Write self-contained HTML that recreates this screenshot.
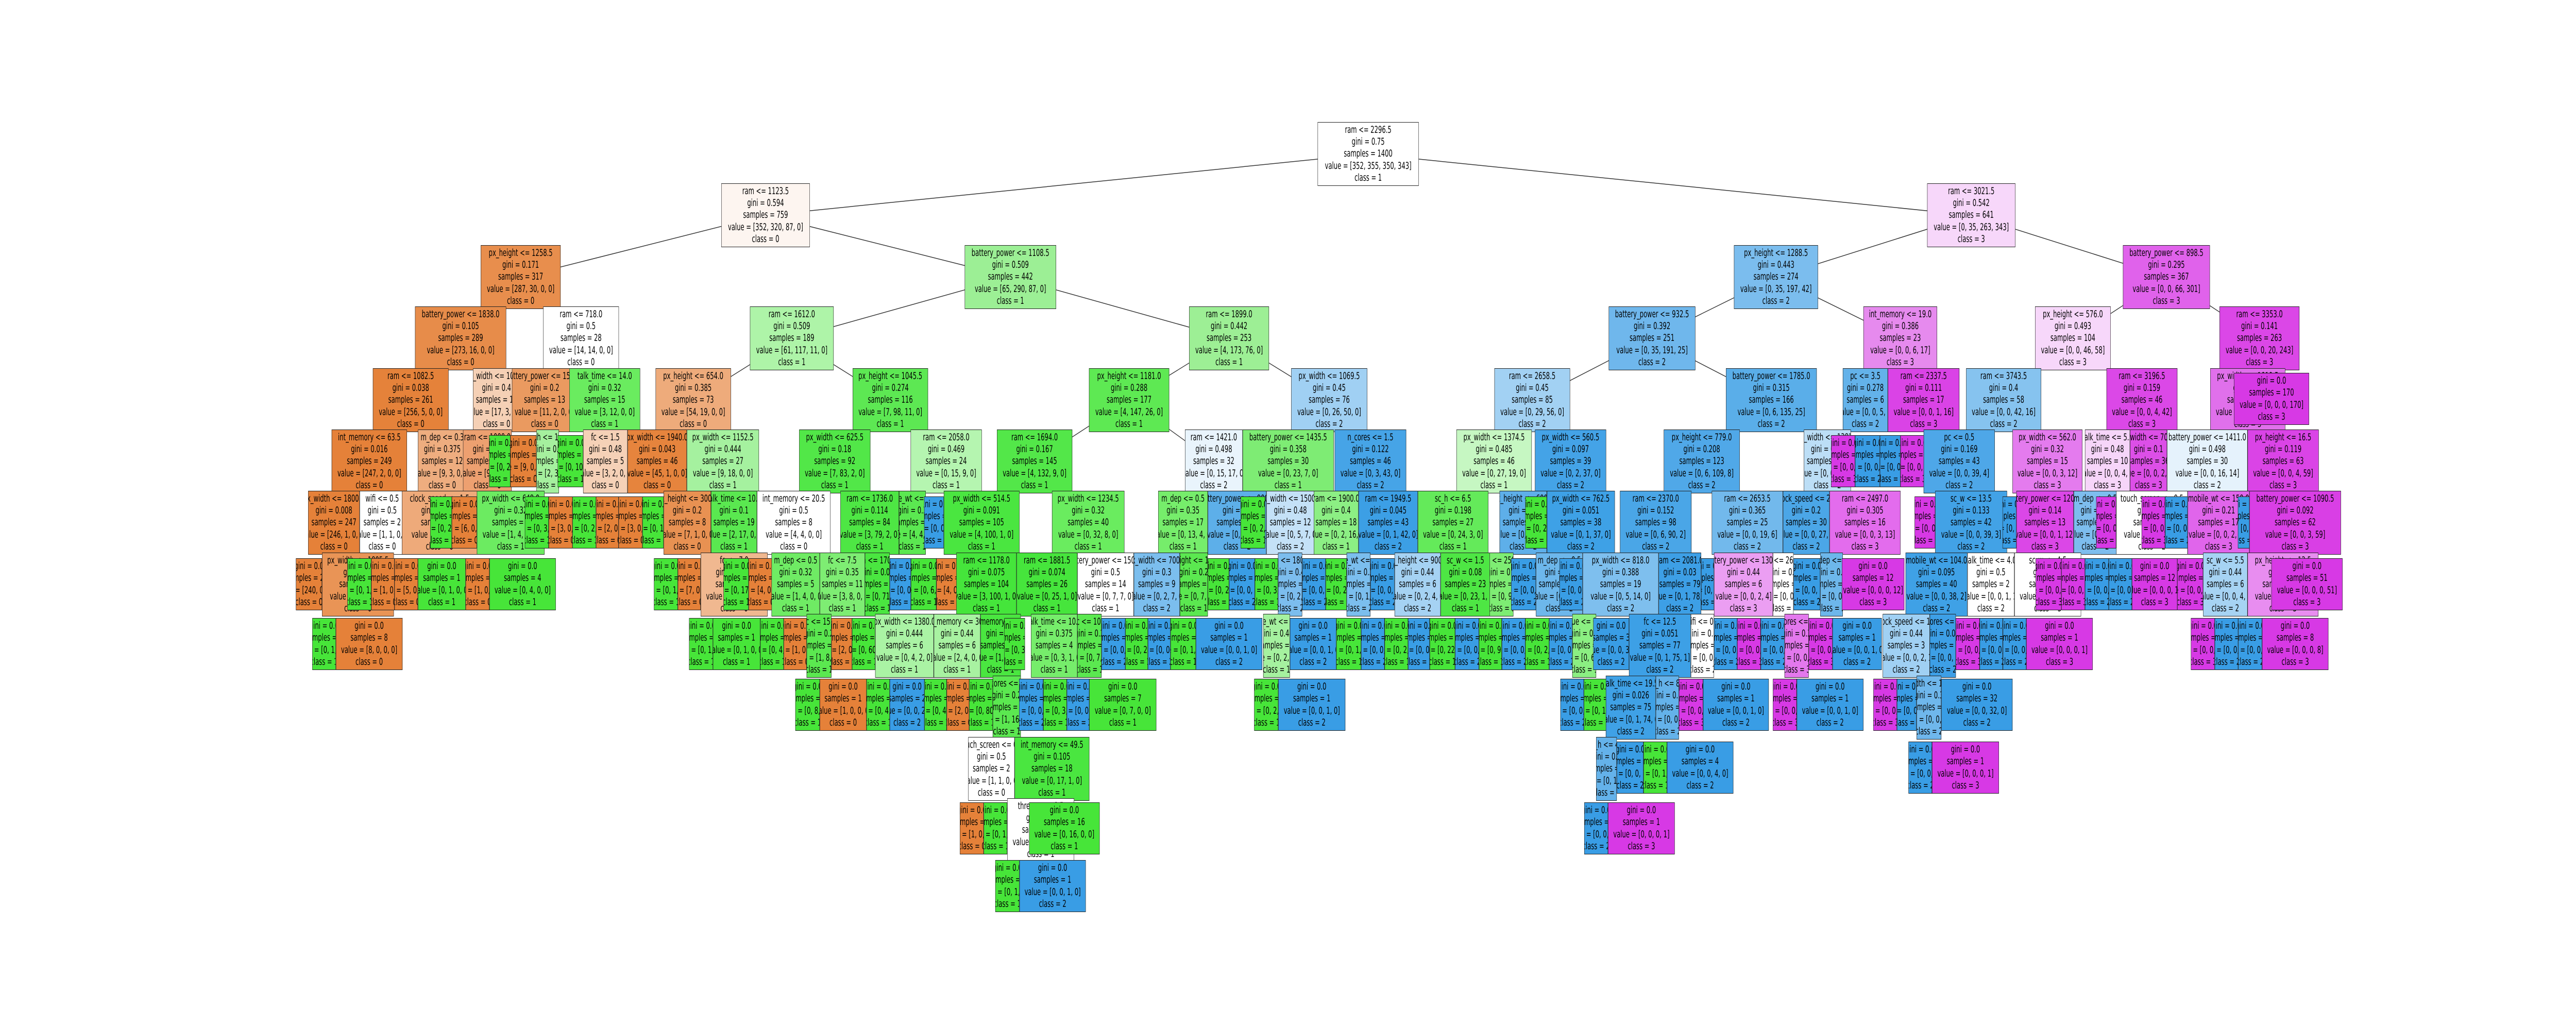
<!DOCTYPE html>
<html><head><meta charset="utf-8">
<style>
html,body{margin:0;padding:0;background:#fff;width:100%;height:100%;overflow:hidden}
#c{position:absolute;left:0;top:0;width:8000px;height:2000px;overflow:hidden;background:#fff;transform-origin:0 0}
.b{position:absolute;height:124px;border:1.5px solid #222;box-sizing:border-box;display:flex;justify-content:center;align-items:center;overflow:hidden;font:18.5px/23.3px "DejaVu Sans","Liberation Sans",sans-serif;white-space:nowrap;text-align:center;color:#000}
.b>div{flex:none}
.l{height:101px}
.o{background:#e58139}.g{background:#47e539}.u{background:#399de5}.m{background:#d739e5}.w{background:#fff}
svg{position:absolute;left:0;top:0}
</style></head><body><div id="c">
<svg width="8000" height="2000"><g stroke="#333" stroke-width="1.5" fill="none">
<line x1="4249" y1="299" x2="2377" y2="418"/><line x1="4249" y1="299" x2="6122" y2="418"/>
<line x1="2377" y1="418" x2="1617" y2="538"/><line x1="2377" y1="418" x2="3138" y2="538"/>
<line x1="6122" y1="418" x2="5515" y2="538"/><line x1="6122" y1="418" x2="6728" y2="538"/>
<line x1="1617" y1="538" x2="1430" y2="657"/><line x1="1617" y1="538" x2="1804" y2="657"/>
<line x1="3138" y1="538" x2="2459" y2="657"/><line x1="3138" y1="538" x2="3817" y2="657"/>
<line x1="5515" y1="538" x2="5130" y2="657"/><line x1="5515" y1="538" x2="5901" y2="657"/>
<line x1="6728" y1="538" x2="6437" y2="657"/><line x1="6728" y1="538" x2="7017" y2="657"/>
<line x1="2459" y1="657" x2="2153" y2="777"/><line x1="2459" y1="657" x2="2765" y2="777"/>
<line x1="3817" y1="657" x2="3506" y2="777"/><line x1="3817" y1="657" x2="4128" y2="777"/>
<line x1="5130" y1="657" x2="4758" y2="777"/><line x1="5130" y1="657" x2="5501" y2="777"/>
<line x1="6437" y1="657" x2="6222" y2="777"/><line x1="6437" y1="657" x2="6652" y2="777"/>
<line x1="7017" y1="657" x2="6980" y2="777"/>
<line x1="2765" y1="777" x2="2592" y2="896"/><line x1="2765" y1="777" x2="2938" y2="896"/>
<line x1="3506" y1="777" x2="3213" y2="896"/><line x1="3506" y1="777" x2="3769" y2="896"/>
<line x1="4128" y1="777" x2="4000" y2="896"/><line x1="4128" y1="777" x2="4256" y2="896"/>
<line x1="4758" y1="777" x2="4640" y2="896"/><line x1="4758" y1="777" x2="4877" y2="896"/>
<line x1="5501" y1="777" x2="5285" y2="896"/>
<line x1="3213" y1="896" x2="3048" y2="1015"/><line x1="3213" y1="896" x2="3380" y2="1015"/>
</g></svg>

<div class="b w" style="left:4092px;top:237px;width:314px"><div>ram &lt;= 2296.5<br>gini = 0.75<br>samples = 1400<br>value = [352, 355, 350, 343]<br>class = 1</div></div>
<div class="b" style="left:2240px;top:356px;width:275px;background:#fdf5f0"><div>ram &lt;= 1123.5<br>gini = 0.594<br>samples = 759<br>value = [352, 320, 87, 0]<br>class = 0</div></div>
<div class="b" style="left:5985px;top:356px;width:274px;background:#f7d7fa"><div>ram &lt;= 3021.5<br>gini = 0.542<br>samples = 641<br>value = [0, 35, 263, 343]<br>class = 3</div></div>
<div class="b" style="left:1493px;top:476px;width:248px;background:#e88e4d"><div>px_height &lt;= 1258.5<br>gini = 0.171<br>samples = 317<br>value = [287, 30, 0, 0]<br>class = 0</div></div>
<div class="b" style="left:2996px;top:476px;width:284px;background:#9cef95"><div>battery_power &lt;= 1108.5<br>gini = 0.509<br>samples = 442<br>value = [65, 290, 87, 0]<br>class = 1</div></div>
<div class="b" style="left:5385px;top:476px;width:261px;background:#7bbdee"><div>px_height &lt;= 1288.5<br>gini = 0.443<br>samples = 274<br>value = [0, 35, 197, 42]<br>class = 2</div></div>
<div class="b" style="left:6593px;top:476px;width:270px;background:#e062eb"><div>battery_power &lt;= 898.5<br>gini = 0.295<br>samples = 367<br>value = [0, 0, 66, 301]<br>class = 3</div></div>
<div class="b" style="left:1289px;top:595px;width:283px;background:#e78c4a"><div>battery_power &lt;= 1838.0<br>gini = 0.105<br>samples = 289<br>value = [273, 16, 0, 0]<br>class = 0</div></div>
<div class="b w" style="left:1687px;top:595px;width:235px"><div>ram &lt;= 718.0<br>gini = 0.5<br>samples = 28<br>value = [14, 14, 0, 0]<br>class = 0</div></div>
<div class="b" style="left:2329px;top:595px;width:260px;background:#aef4a8"><div>ram &lt;= 1612.0<br>gini = 0.509<br>samples = 189<br>value = [61, 117, 11, 0]<br>class = 1</div></div>
<div class="b" style="left:3693px;top:595px;width:248px;background:#9def95"><div>ram &lt;= 1899.0<br>gini = 0.442<br>samples = 253<br>value = [4, 173, 76, 0]<br>class = 1</div></div>
<div class="b" style="left:4996px;top:595px;width:269px;background:#6fb7ec"><div>battery_power &lt;= 932.5<br>gini = 0.392<br>samples = 251<br>value = [0, 35, 191, 25]<br>class = 2</div></div>
<div class="b" style="left:5787px;top:595px;width:229px;background:#e68aee"><div>int_memory &lt;= 19.0<br>gini = 0.386<br>samples = 23<br>value = [0, 0, 6, 17]<br>class = 3</div></div>
<div class="b" style="left:6320px;top:595px;width:235px;background:#f7d7fa"><div>px_height &lt;= 576.0<br>gini = 0.493<br>samples = 104<br>value = [0, 0, 46, 58]<br>class = 3</div></div>
<div class="b" style="left:6893px;top:595px;width:248px;background:#db47e7"><div>ram &lt;= 3353.0<br>gini = 0.141<br>samples = 263<br>value = [0, 0, 20, 243]<br>class = 3</div></div>
<div class="b" style="left:1158px;top:715px;width:235px;background:#e5823a"><div>ram &lt;= 1082.5<br>gini = 0.038<br>samples = 261<br>value = [256, 5, 0, 0]<br>class = 0</div></div>
<div class="b" style="left:1469px;top:715px;width:146px;background:#f5d0b5"><div>px_width &lt;= 1000.0<br>gini = 0.4<br>samples = 17<br>value = [17, 3, 0, 0]<br>class = 0</div></div>
<div class="b" style="left:1590px;top:715px;width:203px;background:#ea9a60"><div>battery_power &lt;= 1500.0<br>gini = 0.2<br>samples = 13<br>value = [11, 2, 0, 0]<br>class = 0</div></div>
<div class="b" style="left:1768px;top:715px;width:220px;background:#6aec5f"><div>talk_time &lt;= 14.0<br>gini = 0.32<br>samples = 15<br>value = [3, 12, 0, 0]<br>class = 1</div></div>
<div class="b" style="left:2036px;top:715px;width:234px;background:#eeab7b"><div>px_height &lt;= 654.0<br>gini = 0.385<br>samples = 73<br>value = [54, 19, 0, 0]<br>class = 0</div></div>
<div class="b" style="left:2648px;top:715px;width:234px;background:#5de853"><div>px_height &lt;= 1045.5<br>gini = 0.274<br>samples = 116<br>value = [7, 98, 11, 0]<br>class = 1</div></div>
<div class="b" style="left:3382px;top:715px;width:249px;background:#5ee953"><div>px_height &lt;= 1181.0<br>gini = 0.288<br>samples = 177<br>value = [4, 147, 26, 0]<br>class = 1</div></div>
<div class="b" style="left:4010px;top:715px;width:236px;background:#a0d0f3"><div>px_width &lt;= 1069.5<br>gini = 0.45<br>samples = 76<br>value = [0, 26, 50, 0]<br>class = 2</div></div>
<div class="b" style="left:4641px;top:715px;width:235px;background:#a2d1f3"><div>ram &lt;= 2658.5<br>gini = 0.45<br>samples = 85<br>value = [0, 29, 56, 0]<br>class = 2</div></div>
<div class="b" style="left:5360px;top:715px;width:282px;background:#5aaee9"><div>battery_power &lt;= 1785.0<br>gini = 0.315<br>samples = 166<br>value = [0, 6, 135, 25]<br>class = 2</div></div>
<div class="b" style="left:5723px;top:715px;width:140px;background:#63b2ea"><div>pc &lt;= 3.5<br>gini = 0.278<br>samples = 6<br>value = [0, 0, 5, 1]<br>class = 2</div></div>
<div class="b" style="left:5863px;top:715px;width:222px;background:#da43e6"><div>ram &lt;= 2337.5<br>gini = 0.111<br>samples = 17<br>value = [0, 0, 1, 16]<br>class = 3</div></div>
<div class="b" style="left:6106px;top:715px;width:233px;background:#86c3ef"><div>ram &lt;= 3743.5<br>gini = 0.4<br>samples = 58<br>value = [0, 0, 42, 16]<br>class = 2</div></div>
<div class="b" style="left:6542px;top:715px;width:220px;background:#db48e7"><div>ram &lt;= 3196.5<br>gini = 0.159<br>samples = 46<br>value = [0, 0, 4, 42]<br>class = 3</div></div>
<div class="b" style="left:6864px;top:715px;width:233px;background:#e070eb"><div>px_width &lt;= 1010.5<br>gini = 0.3<br>samples = 93<br>value = [0, 0, 20, 73]<br>class = 3</div></div>
<div class="b l m" style="left:6938px;top:724px;width:233px"><div>gini = 0.0<br>samples = 170<br>value = [0, 0, 0, 170]<br>class = 3</div></div>
<div class="b o" style="left:1030px;top:834px;width:234px"><div>int_memory &lt;= 63.5<br>gini = 0.016<br>samples = 249<br>value = [247, 2, 0, 0]<br>class = 0</div></div>
<div class="b" style="left:1298px;top:834px;width:151px;background:#eead7f"><div>m_dep &lt;= 0.3<br>gini = 0.375<br>samples = 12<br>value = [9, 3, 0, 0]<br>class = 0</div></div>
<div class="b" style="left:1438px;top:834px;width:151px;background:#eda070"><div>ram &lt;= 1000.0<br>gini = 0.3<br>samples = 11<br>value = [9, 2, 0, 0]<br>class = 0</div></div>
<div class="b l g" style="left:1519px;top:845px;width:66px"><div>gini = 0.0<br>samples = 2<br>value = [0, 2, 0, 0]<br>class = 1</div></div>
<div class="b l o" style="left:1585px;top:845px;width:81px"><div>gini = 0.0<br>samples = 9<br>value = [9, 0, 0, 0]<br>class = 0</div></div>
<div class="b" style="left:1666px;top:834px;width:70px;background:#a5f09e"><div>sc_h &lt;= 10.5<br>gini = 0.4<br>samples = 5<br>value = [2, 3, 0, 0]<br>class = 1</div></div>
<div class="b l g" style="left:1732px;top:845px;width:79px"><div>gini = 0.0<br>samples = 10<br>value = [0, 10, 0, 0]<br>class = 1</div></div>
<div class="b" style="left:1811px;top:834px;width:138px;background:#f5d1b7"><div>fc &lt;= 1.5<br>gini = 0.48<br>samples = 5<br>value = [3, 2, 0, 0]<br>class = 0</div></div>
<div class="b" style="left:1949px;top:834px;width:184px;background:#e6843d"><div>px_width &lt;= 1940.0<br>gini = 0.043<br>samples = 46<br>value = [45, 1, 0, 0]<br>class = 0</div></div>
<div class="b" style="left:2133px;top:834px;width:224px;background:#a5f19f"><div>px_width &lt;= 1152.5<br>gini = 0.444<br>samples = 27<br>value = [9, 18, 0, 0]<br>class = 1</div></div>
<div class="b" style="left:2482px;top:834px;width:221px;background:#52e748"><div>px_width &lt;= 625.5<br>gini = 0.18<br>samples = 92<br>value = [7, 83, 2, 0]<br>class = 1</div></div>
<div class="b" style="left:2828px;top:834px;width:221px;background:#b5f5b0"><div>ram &lt;= 2058.0<br>gini = 0.469<br>samples = 24<br>value = [0, 15, 9, 0]<br>class = 1</div></div>
<div class="b" style="left:3096px;top:834px;width:234px;background:#53e749"><div>ram &lt;= 1694.0<br>gini = 0.167<br>samples = 145<br>value = [4, 132, 9, 0]<br>class = 1</div></div>
<div class="b" style="left:3680px;top:834px;width:179px;background:#e9f4fc"><div>ram &lt;= 1421.0<br>gini = 0.498<br>samples = 32<br>value = [0, 15, 17, 0]<br>class = 2</div></div>
<div class="b" style="left:3859px;top:834px;width:283px;background:#7eec74"><div>battery_power &lt;= 1435.5<br>gini = 0.358<br>samples = 30<br>value = [0, 23, 7, 0]<br>class = 1</div></div>
<div class="b" style="left:4145px;top:834px;width:222px;background:#46a4e7"><div>n_cores &lt;= 1.5<br>gini = 0.122<br>samples = 46<br>value = [0, 3, 43, 0]<br>class = 2</div></div>
<div class="b" style="left:4523px;top:834px;width:234px;background:#c6f7c2"><div>px_width &lt;= 1374.5<br>gini = 0.485<br>samples = 46<br>value = [0, 27, 19, 0]<br>class = 1</div></div>
<div class="b" style="left:4767px;top:834px;width:221px;background:#44a3e7"><div>px_width &lt;= 560.5<br>gini = 0.097<br>samples = 39<br>value = [0, 2, 37, 0]<br>class = 2</div></div>
<div class="b" style="left:5167px;top:834px;width:236px;background:#50a8e8"><div>px_height &lt;= 779.0<br>gini = 0.208<br>samples = 123<br>value = [0, 6, 109, 8]<br>class = 2</div></div>
<div class="b" style="left:5602px;top:834px;width:146px;background:#bcdef6"><div>px_width &lt;= 1381.5<br>gini = 0.44<br>samples = 43<br>value = [0, 0, 29, 14]<br>class = 2</div></div>
<div class="b l m" style="left:5687px;top:845px;width:74px"><div>gini = 0.0<br>samples = 1<br>value = [0, 0, 0, 1]<br>class = 3</div></div>
<div class="b l u" style="left:5761px;top:845px;width:77px"><div>gini = 0.0<br>samples = 5<br>value = [0, 0, 5, 0]<br>class = 2</div></div>
<div class="b l u" style="left:5838px;top:845px;width:64px"><div>gini = 0.0<br>samples = 1<br>value = [0, 0, 1, 0]<br>class = 2</div></div>
<div class="b l m" style="left:5902px;top:845px;width:73px"><div>gini = 0.0<br>samples = 16<br>value = [0, 0, 0, 16]<br>class = 3</div></div>
<div class="b" style="left:5974px;top:834px;width:221px;background:#4ea7e8"><div>pc &lt;= 0.5<br>gini = 0.169<br>samples = 43<br>value = [0, 0, 39, 4]<br>class = 2</div></div>
<div class="b" style="left:6250px;top:834px;width:217px;background:#e47bee"><div>px_width &lt;= 562.0<br>gini = 0.32<br>samples = 15<br>value = [0, 0, 3, 12]<br>class = 3</div></div>
<div class="b" style="left:6475px;top:834px;width:140px;background:#f6d5f9"><div>talk_time &lt;= 5.5<br>gini = 0.48<br>samples = 10<br>value = [0, 0, 4, 6]<br>class = 3</div></div>
<div class="b" style="left:6615px;top:834px;width:115px;background:#dc4fe7"><div>px_width &lt;= 700.5<br>gini = 0.1<br>samples = 36<br>value = [0, 0, 2, 34]<br>class = 3</div></div>
<div class="b" style="left:6730px;top:834px;width:250px;background:#e5f2fc"><div>battery_power &lt;= 1411.0<br>gini = 0.498<br>samples = 30<br>value = [0, 0, 16, 14]<br>class = 2</div></div>
<div class="b" style="left:6980px;top:834px;width:221px;background:#da44e6"><div>px_height &lt;= 16.5<br>gini = 0.119<br>samples = 63<br>value = [0, 0, 4, 59]<br>class = 3</div></div>
<div class="b o" style="left:957px;top:953px;width:160px"><div>px_width &lt;= 1800.0<br>gini = 0.008<br>samples = 247<br>value = [246, 1, 0, 0]<br>class = 0</div></div>
<div class="b w" style="left:1117px;top:953px;width:140px"><div>wifi &lt;= 0.5<br>gini = 0.5<br>samples = 2<br>value = [1, 1, 0, 0]<br>class = 0</div></div>
<div class="b" style="left:1248px;top:953px;width:234px;background:#eeaa7a"><div>clock_speed &lt;= 1.5<br>gini = 0.375<br>samples = 8<br>value = [6, 2, 0, 0]<br>class = 0</div></div>
<div class="b l g" style="left:1336px;top:964px;width:67px"><div>gini = 0.0<br>samples = 2<br>value = [0, 2, 0, 0]<br>class = 1</div></div>
<div class="b l o" style="left:1403px;top:964px;width:78px"><div>gini = 0.0<br>samples = 6<br>value = [6, 0, 0, 0]<br>class = 0</div></div>
<div class="b" style="left:1481px;top:953px;width:210px;background:#6ceb61"><div>px_width &lt;= 648.0<br>gini = 0.32<br>samples = 5<br>value = [1, 4, 0, 0]<br>class = 1</div></div>
<div class="b l g" style="left:1630px;top:964px;width:74px"><div>gini = 0.0<br>samples = 3<br>value = [0, 3, 0, 0]<br>class = 1</div></div>
<div class="b l o" style="left:1704px;top:964px;width:74px"><div>gini = 0.0<br>samples = 3<br>value = [3, 0, 0, 0]<br>class = 0</div></div>
<div class="b l g" style="left:1778px;top:964px;width:73px"><div>gini = 0.0<br>samples = 2<br>value = [0, 2, 0, 0]<br>class = 1</div></div>
<div class="b l o" style="left:1851px;top:964px;width:70px"><div>gini = 0.0<br>samples = 2<br>value = [2, 0, 0, 0]<br>class = 0</div></div>
<div class="b l o" style="left:1921px;top:964px;width:74px"><div>gini = 0.0<br>samples = 3<br>value = [3, 0, 0, 0]<br>class = 0</div></div>
<div class="b l g" style="left:1995px;top:964px;width:66px"><div>gini = 0.0<br>samples = 1<br>value = [0, 1, 0, 0]<br>class = 1</div></div>
<div class="b" style="left:2061px;top:953px;width:147px;background:#e89152"><div>px_height &lt;= 300.0<br>gini = 0.2<br>samples = 8<br>value = [7, 1, 0, 0]<br>class = 0</div></div>
<div class="b" style="left:2208px;top:953px;width:143px;background:#5ae850"><div>talk_time &lt;= 10.0<br>gini = 0.1<br>samples = 19<br>value = [2, 17, 0, 0]<br>class = 1</div></div>
<div class="b w" style="left:2351px;top:953px;width:228px"><div>int_memory &lt;= 20.5<br>gini = 0.5<br>samples = 8<br>value = [4, 4, 0, 0]<br>class = 0</div></div>
<div class="b" style="left:2610px;top:953px;width:182px;background:#4ee644"><div>ram &lt;= 1736.0<br>gini = 0.114<br>samples = 84<br>value = [3, 79, 2, 0]<br>class = 1</div></div>
<div class="b" style="left:2792px;top:953px;width:83px;background:#5be851"><div>mobile_wt &lt;= 100.0<br>gini = 0.3<br>samples = 8<br>value = [4, 4, 0, 0]<br>class = 1</div></div>
<div class="b l u" style="left:2870px;top:964px;width:61px"><div>gini = 0.0<br>samples = 1<br>value = [0, 0, 1, 0]<br>class = 2</div></div>
<div class="b" style="left:2931px;top:953px;width:235px;background:#4ae640"><div>px_width &lt;= 514.5<br>gini = 0.091<br>samples = 105<br>value = [4, 100, 1, 0]<br>class = 1</div></div>
<div class="b" style="left:3267px;top:953px;width:225px;background:#6aec5f"><div>px_width &lt;= 1234.5<br>gini = 0.32<br>samples = 40<br>value = [0, 32, 8, 0]<br>class = 1</div></div>
<div class="b" style="left:3597px;top:953px;width:154px;background:#76ed6b"><div>m_dep &lt;= 0.5<br>gini = 0.35<br>samples = 17<br>value = [0, 13, 4, 0]<br>class = 1</div></div>
<div class="b" style="left:3751px;top:953px;width:182px;background:#5dafe9"><div>battery_power &lt;= 900.0<br>gini = 0.2<br>samples = 15<br>value = [0, 2, 13, 0]<br>class = 2</div></div>
<div class="b l g" style="left:3853px;top:964px;width:76px"><div>gini = 0.0<br>samples = 2<br>value = [0, 2, 0, 0]<br>class = 1</div></div>
<div class="b" style="left:3933px;top:953px;width:149px;background:#c4e1f7"><div>px_width &lt;= 1500.0<br>gini = 0.48<br>samples = 12<br>value = [0, 5, 7, 0]<br>class = 2</div></div>
<div class="b" style="left:4080px;top:953px;width:139px;background:#8cef84"><div>ram &lt;= 1900.0<br>gini = 0.4<br>samples = 18<br>value = [0, 2, 16, 0]<br>class = 1</div></div>
<div class="b" style="left:4219px;top:953px;width:184px;background:#3c9fe5"><div>ram &lt;= 1949.5<br>gini = 0.045<br>samples = 43<br>value = [0, 1, 42, 0]<br>class = 2</div></div>
<div class="b" style="left:4403px;top:953px;width:219px;background:#64ea5a"><div>sc_h &lt;= 6.5<br>gini = 0.198<br>samples = 27<br>value = [0, 24, 3, 0]<br>class = 1</div></div>
<div class="b" style="left:4657px;top:953px;width:147px;background:#5eafe9"><div>px_height &lt;= 600.0<br>gini = 0.2<br>samples = 19<br>value = [0, 3, 16, 0]<br>class = 2</div></div>
<div class="b l g" style="left:4737px;top:964px;width:67px"><div>gini = 0.0<br>samples = 2<br>value = [0, 2, 0, 0]<br>class = 1</div></div>
<div class="b" style="left:4804px;top:953px;width:211px;background:#3ea1e6"><div>px_width &lt;= 762.5<br>gini = 0.051<br>samples = 38<br>value = [0, 1, 37, 0]<br>class = 2</div></div>
<div class="b" style="left:5031px;top:953px;width:222px;background:#4aa6e7"><div>ram &lt;= 2370.0<br>gini = 0.152<br>samples = 98<br>value = [0, 6, 90, 2]<br>class = 2</div></div>
<div class="b" style="left:5316px;top:953px;width:221px;background:#72b9ec"><div>ram &lt;= 2653.5<br>gini = 0.365<br>samples = 25<br>value = [0, 0, 19, 6]<br>class = 2</div></div>
<div class="b" style="left:5537px;top:953px;width:145px;background:#4ba6e7"><div>clock_speed &lt;= 2.0<br>gini = 0.2<br>samples = 30<br>value = [0, 0, 27, 3]<br>class = 2</div></div>
<div class="b" style="left:5682px;top:953px;width:220px;background:#e36ced"><div>ram &lt;= 2497.0<br>gini = 0.305<br>samples = 16<br>value = [0, 0, 3, 13]<br>class = 3</div></div>
<div class="b l m" style="left:5946px;top:964px;width:64px"><div>gini = 0.0<br>samples = 1<br>value = [0, 0, 0, 1]<br>class = 3</div></div>
<div class="b" style="left:6010px;top:953px;width:223px;background:#42a2e6"><div>sc_w &lt;= 13.5<br>gini = 0.133<br>samples = 42<br>value = [0, 0, 39, 3]<br>class = 2</div></div>
<div class="b l u" style="left:6219px;top:964px;width:43px"><div>gini = 0.0<br>samples = 1<br>value = [0, 0, 1, 0]<br>class = 2</div></div>
<div class="b" style="left:6262px;top:953px;width:178px;background:#db47e7"><div>battery_power &lt;= 1200.0<br>gini = 0.14<br>samples = 13<br>value = [0, 0, 1, 12]<br>class = 3</div></div>
<div class="b" style="left:6440px;top:953px;width:134px;background:#7dbdee"><div>m_dep &lt;= 0.5<br>gini = 0.4<br>samples = 6<br>value = [0, 0, 4, 2]<br>class = 2</div></div>
<div class="b l m" style="left:6510px;top:964px;width:62px"><div>gini = 0.0<br>samples = 1<br>value = [0, 0, 0, 1]<br>class = 3</div></div>
<div class="b w" style="left:6572px;top:953px;width:222px"><div>touch_screen &lt;= 0.5<br>gini = 0.5<br>samples = 4<br>value = [0, 0, 2, 2]<br>class = 2</div></div>
<div class="b l m" style="left:6651px;top:964px;width:73px"><div>gini = 0.0<br>samples = 2<br>value = [0, 0, 0, 2]<br>class = 3</div></div>
<div class="b l u" style="left:6724px;top:964px;width:70px"><div>gini = 0.0<br>samples = 2<br>value = [0, 0, 2, 0]<br>class = 2</div></div>
<div class="b" style="left:6794px;top:953px;width:192px;background:#e065eb"><div>mobile_wt &lt;= 150.0<br>gini = 0.21<br>samples = 17<br>value = [0, 0, 2, 15]<br>class = 3</div></div>
<div class="b l u" style="left:6950px;top:964px;width:36px"><div>gini = 0.0<br>samples = 1<br>value = [0, 0, 1, 0]<br>class = 2</div></div>
<div class="b" style="left:6986px;top:953px;width:284px;background:#d93fe5"><div>battery_power &lt;= 1090.5<br>gini = 0.092<br>samples = 62<br>value = [0, 0, 3, 59]<br>class = 3</div></div>
<div class="b l o" style="left:919px;top:1084px;width:81px"><div>gini = 0.0<br>samples = 240<br>value = [240, 0, 0, 0]<br>class = 0</div></div>
<div class="b" style="left:1000px;top:1073px;width:223px;background:#e99456"><div>px_width &lt;= 1805.5<br>gini = 0.2<br>samples = 7<br>value = [6, 1, 0, 0]<br>class = 0</div></div>
<div class="b l g" style="left:1079px;top:1084px;width:74px"><div>gini = 0.0<br>samples = 1<br>value = [0, 1, 0, 0]<br>class = 1</div></div>
<div class="b l o" style="left:1153px;top:1084px;width:72px"><div>gini = 0.0<br>samples = 1<br>value = [1, 0, 0, 0]<br>class = 0</div></div>
<div class="b l o" style="left:1225px;top:1084px;width:73px"><div>gini = 0.0<br>samples = 5<br>value = [5, 0, 0, 0]<br>class = 0</div></div>
<div class="b l g" style="left:1298px;top:1084px;width:148px"><div>gini = 0.0<br>samples = 1<br>value = [0, 1, 0, 0]<br>class = 1</div></div>
<div class="b l o" style="left:1446px;top:1084px;width:74px"><div>gini = 0.0<br>samples = 1<br>value = [1, 0, 0, 0]<br>class = 0</div></div>
<div class="b l g" style="left:1520px;top:1084px;width:206px"><div>gini = 0.0<br>samples = 4<br>value = [0, 4, 0, 0]<br>class = 1</div></div>
<div class="b l g" style="left:2031px;top:1084px;width:74px"><div>gini = 0.0<br>samples = 1<br>value = [0, 1, 0, 0]<br>class = 1</div></div>
<div class="b l o" style="left:2105px;top:1084px;width:71px"><div>gini = 0.0<br>samples = 7<br>value = [7, 0, 0, 0]<br>class = 0</div></div>
<div class="b" style="left:2176px;top:1073px;width:208px;background:#f0b890"><div>fc &lt;= 7.0<br>gini = 0.444<br>samples = 3<br>value = [2, 1, 0, 0]<br>class = 0</div></div>
<div class="b l g" style="left:2247px;top:1084px;width:78px"><div>gini = 0.0<br>samples = 17<br>value = [0, 17, 0, 0]<br>class = 1</div></div>
<div class="b l o" style="left:2325px;top:1084px;width:73px"><div>gini = 0.0<br>samples = 4<br>value = [4, 0, 0, 0]<br>class = 0</div></div>
<div class="b" style="left:2396px;top:1073px;width:150px;background:#6feb64"><div>m_dep &lt;= 0.5<br>gini = 0.32<br>samples = 5<br>value = [1, 4, 0, 0]<br>class = 1</div></div>
<div class="b" style="left:2546px;top:1073px;width:140px;background:#7eed73"><div>fc &lt;= 7.5<br>gini = 0.35<br>samples = 11<br>value = [3, 8, 0, 0]<br>class = 1</div></div>
<div class="b" style="left:2686px;top:1073px;width:77px;background:#4ae640"><div>ram &lt;= 1700.0<br>gini = 0.05<br>samples = 73<br>value = [0, 71, 2, 0]<br>class = 1</div></div>
<div class="b l u" style="left:2763px;top:1084px;width:66px"><div>gini = 0.0<br>samples = 1<br>value = [0, 0, 1, 0]<br>class = 2</div></div>
<div class="b l g" style="left:2829px;top:1084px;width:79px"><div>gini = 0.0<br>samples = 6<br>value = [0, 6, 0, 0]<br>class = 1</div></div>
<div class="b l o" style="left:2908px;top:1084px;width:64px"><div>gini = 0.0<br>samples = 4<br>value = [4, 0, 0, 0]<br>class = 0</div></div>
<div class="b" style="left:2970px;top:1073px;width:187px;background:#45e53b"><div>ram &lt;= 1178.0<br>gini = 0.075<br>samples = 104<br>value = [3, 100, 1, 0]<br>class = 1</div></div>
<div class="b" style="left:3157px;top:1073px;width:189px;background:#46e53c"><div>ram &lt;= 1881.5<br>gini = 0.074<br>samples = 26<br>value = [0, 25, 1, 0]<br>class = 1</div></div>
<div class="b w" style="left:3346px;top:1073px;width:175px"><div>battery_power &lt;= 1500.0<br>gini = 0.5<br>samples = 14<br>value = [0, 7, 7, 0]<br>class = 1</div></div>
<div class="b" style="left:3521px;top:1073px;width:143px;background:#7bbeee"><div>px_width &lt;= 700.0<br>gini = 0.3<br>samples = 9<br>value = [0, 2, 7, 0]<br>class = 2</div></div>
<div class="b" style="left:3664px;top:1073px;width:87px;background:#5be850"><div>px_height &lt;= 1100.0<br>gini = 0.2<br>samples = 8<br>value = [0, 7, 1, 0]<br>class = 1</div></div>
<div class="b l g" style="left:3751px;top:1084px;width:66px"><div>gini = 0.0<br>samples = 2<br>value = [0, 2, 0, 0]<br>class = 1</div></div>
<div class="b l u" style="left:3817px;top:1084px;width:80px"><div>gini = 0.0<br>samples = 11<br>value = [0, 0, 11, 0]<br>class = 2</div></div>
<div class="b l g" style="left:3897px;top:1084px;width:72px"><div>gini = 0.0<br>samples = 3<br>value = [0, 3, 0, 0]<br>class = 1</div></div>
<div class="b" style="left:3969px;top:1073px;width:75px;background:#7cbdee"><div>ram &lt;= 1800.0<br>gini = 0.4<br>samples = 8<br>value = [0, 2, 6, 0]<br>class = 2</div></div>
<div class="b l u" style="left:4044px;top:1084px;width:73px"><div>gini = 0.0<br>samples = 14<br>value = [0, 0, 14, 0]<br>class = 2</div></div>
<div class="b l g" style="left:4117px;top:1084px;width:65px"><div>gini = 0.0<br>samples = 2<br>value = [0, 2, 0, 0]<br>class = 1</div></div>
<div class="b" style="left:4182px;top:1073px;width:74px;background:#7bbeee"><div>mobile_wt &lt;= 120.0<br>gini = 0.3<br>samples = 4<br>value = [0, 1, 3, 0]<br>class = 2</div></div>
<div class="b l u" style="left:4256px;top:1084px;width:75px"><div>gini = 0.0<br>samples = 39<br>value = [0, 0, 39, 0]<br>class = 2</div></div>
<div class="b" style="left:4331px;top:1073px;width:143px;background:#a5d2f3"><div>px_height &lt;= 900.0<br>gini = 0.44<br>samples = 6<br>value = [0, 2, 4, 0]<br>class = 2</div></div>
<div class="b" style="left:4474px;top:1073px;width:154px;background:#4ee644"><div>sc_w &lt;= 1.5<br>gini = 0.08<br>samples = 23<br>value = [0, 23, 1, 0]<br>class = 1</div></div>
<div class="b" style="left:4626px;top:1073px;width:74px;background:#7eed73"><div>ram &lt;= 2500.0<br>gini = 0.3<br>samples = 12<br>value = [0, 9, 3, 0]<br>class = 1</div></div>
<div class="b l u" style="left:4693px;top:1084px;width:77px"><div>gini = 0.0<br>samples = 3<br>value = [0, 0, 3, 0]<br>class = 2</div></div>
<div class="b" style="left:4770px;top:1073px;width:145px;background:#6db7eb"><div>m_dep &lt;= 0.5<br>gini = 0.3<br>samples = 10<br>value = [0, 2, 8, 0]<br>class = 2</div></div>
<div class="b l u" style="left:4843px;top:1084px;width:72px"><div>gini = 0.0<br>samples = 6<br>value = [0, 0, 6, 0]<br>class = 2</div></div>
<div class="b" style="left:4915px;top:1073px;width:236px;background:#7ebfee"><div>px_width &lt;= 818.0<br>gini = 0.388<br>samples = 19<br>value = [0, 5, 14, 0]<br>class = 2</div></div>
<div class="b" style="left:5151px;top:1073px;width:132px;background:#3d9fe6"><div>ram &lt;= 2081.0<br>gini = 0.03<br>samples = 79<br>value = [0, 1, 78, 0]<br>class = 2</div></div>
<div class="b l u" style="left:5283px;top:1084px;width:40px"><div>gini = 0.0<br>samples = 1<br>value = [0, 0, 1, 0]<br>class = 2</div></div>
<div class="b" style="left:5323px;top:1073px;width:183px;background:#eb9ef2"><div>battery_power &lt;= 1300.0<br>gini = 0.44<br>samples = 6<br>value = [0, 0, 2, 4]<br>class = 3</div></div>
<div class="b w" style="left:5506px;top:1073px;width:64px"><div>ram &lt;= 2600.0<br>gini = 0.5<br>samples = 4<br>value = [0, 0, 2, 2]<br>class = 2</div></div>
<div class="b l u" style="left:5570px;top:1084px;width:83px"><div>gini = 0.0<br>samples = 19<br>value = [0, 0, 19, 0]<br>class = 2</div></div>
<div class="b" style="left:5653px;top:1073px;width:70px;background:#6db7eb"><div>m_dep &lt;= 0.7<br>gini = 0.3<br>samples = 11<br>value = [0, 0, 8, 3]<br>class = 2</div></div>
<div class="b l m" style="left:5720px;top:1084px;width:194px"><div>gini = 0.0<br>samples = 12<br>value = [0, 0, 0, 12]<br>class = 3</div></div>
<div class="b" style="left:5918px;top:1073px;width:192px;background:#3fa1e6"><div>mobile_wt &lt;= 104.0<br>gini = 0.095<br>samples = 40<br>value = [0, 0, 38, 2]<br>class = 2</div></div>
<div class="b w" style="left:6110px;top:1073px;width:146px"><div>talk_time &lt;= 4.0<br>gini = 0.5<br>samples = 2<br>value = [0, 0, 1, 1]<br>class = 2</div></div>
<div class="b w" style="left:6256px;top:1073px;width:207px"><div>sc_w &lt;= 4.5<br>gini = 0.5<br>samples = 2<br>value = [0, 0, 1, 1]<br>class = 3</div></div>
<div class="b l m" style="left:6322px;top:1084px;width:80px"><div>gini = 0.0<br>samples = 1<br>value = [0, 0, 0, 1]<br>class = 3</div></div>
<div class="b l m" style="left:6402px;top:1084px;width:73px"><div>gini = 0.0<br>samples = 11<br>value = [0, 0, 0, 11]<br>class = 3</div></div>
<div class="b l u" style="left:6475px;top:1084px;width:74px"><div>gini = 0.0<br>samples = 3<br>value = [0, 0, 3, 0]<br>class = 2</div></div>
<div class="b l u" style="left:6549px;top:1084px;width:72px"><div>gini = 0.0<br>samples = 1<br>value = [0, 0, 1, 0]<br>class = 2</div></div>
<div class="b l m" style="left:6621px;top:1084px;width:141px"><div>gini = 0.0<br>samples = 12<br>value = [0, 0, 0, 12]<br>class = 3</div></div>
<div class="b l m" style="left:6762px;top:1084px;width:80px"><div>gini = 0.0<br>samples = 2<br>value = [0, 0, 0, 2]<br>class = 3</div></div>
<div class="b" style="left:6842px;top:1073px;width:138px;background:#a6d3f3"><div>sc_w &lt;= 5.5<br>gini = 0.44<br>samples = 6<br>value = [0, 0, 4, 2]<br>class = 2</div></div>
<div class="b" style="left:6980px;top:1073px;width:220px;background:#e88df0"><div>px_height &lt;= 12.5<br>gini = 0.4<br>samples = 11<br>value = [0, 0, 3, 8]<br>class = 3</div></div>
<div class="b l m" style="left:7054px;top:1084px;width:221px"><div>gini = 0.0<br>samples = 51<br>value = [0, 0, 0, 51]<br>class = 3</div></div>
<div class="b l g" style="left:970px;top:1200px;width:73px"><div>gini = 0.0<br>samples = 1<br>value = [0, 1, 0, 0]<br>class = 1</div></div>
<div class="b l o" style="left:1043px;top:1200px;width:207px"><div>gini = 0.0<br>samples = 8<br>value = [8, 0, 0, 0]<br>class = 0</div></div>
<div class="b l g" style="left:2140px;top:1200px;width:74px"><div>gini = 0.0<br>samples = 1<br>value = [0, 1, 0, 0]<br>class = 1</div></div>
<div class="b l g" style="left:2214px;top:1200px;width:147px"><div>gini = 0.0<br>samples = 1<br>value = [0, 1, 0, 0]<br>class = 1</div></div>
<div class="b l g" style="left:2361px;top:1200px;width:73px"><div>gini = 0.0<br>samples = 4<br>value = [0, 4, 0, 0]<br>class = 1</div></div>
<div class="b l o" style="left:2434px;top:1200px;width:71px"><div>gini = 0.0<br>samples = 1<br>value = [1, 0, 0, 0]<br>class = 0</div></div>
<div class="b" style="left:2505px;top:1192px;width:77px;background:#5be850"><div>pc &lt;= 15.0<br>gini = 0.2<br>samples = 9<br>value = [1, 8, 0, 0]<br>class = 1</div></div>
<div class="b l o" style="left:2582px;top:1200px;width:64px"><div>gini = 0.0<br>samples = 2<br>value = [2, 0, 0, 0]<br>class = 0</div></div>
<div class="b l g" style="left:2646px;top:1200px;width:72px"><div>gini = 0.0<br>samples = 60<br>value = [0, 60, 0, 0]<br>class = 1</div></div>
<div class="b" style="left:2718px;top:1192px;width:182px;background:#aaf3a4"><div>px_width &lt;= 1380.0<br>gini = 0.444<br>samples = 6<br>value = [0, 4, 2, 0]<br>class = 1</div></div>
<div class="b" style="left:2900px;top:1192px;width:145px;background:#a8f2a1"><div>int_memory &lt;= 30.0<br>gini = 0.44<br>samples = 6<br>value = [2, 4, 0, 0]<br>class = 1</div></div>
<div class="b" style="left:3045px;top:1192px;width:125px;background:#4ae640"><div>int_memory &lt;= 40.0<br>gini = 0.1<br>samples = 98<br>value = [1, 96, 1, 0]<br>class = 1</div></div>
<div class="b l g" style="left:3119px;top:1200px;width:64px"><div>gini = 0.0<br>samples = 3<br>value = [0, 3, 0, 0]<br>class = 1</div></div>
<div class="b" style="left:3202px;top:1192px;width:144px;background:#76ed6b"><div>talk_time &lt;= 10.0<br>gini = 0.375<br>samples = 4<br>value = [0, 3, 1, 0]<br>class = 1</div></div>
<div class="b" style="left:3346px;top:1192px;width:75px;background:#5be850"><div>pc &lt;= 10.0<br>gini = 0.2<br>samples = 8<br>value = [0, 7, 1, 0]<br>class = 1</div></div>
<div class="b l u" style="left:3421px;top:1200px;width:74px"><div>gini = 0.0<br>samples = 5<br>value = [0, 0, 5, 0]<br>class = 2</div></div>
<div class="b l g" style="left:3495px;top:1200px;width:70px"><div>gini = 0.0<br>samples = 2<br>value = [0, 2, 0, 0]<br>class = 1</div></div>
<div class="b l u" style="left:3565px;top:1200px;width:70px"><div>gini = 0.0<br>samples = 7<br>value = [0, 0, 7, 0]<br>class = 2</div></div>
<div class="b l g" style="left:3635px;top:1200px;width:79px"><div>gini = 0.0<br>samples = 1<br>value = [0, 1, 0, 0]<br>class = 1</div></div>
<div class="b l u" style="left:3714px;top:1200px;width:206px"><div>gini = 0.0<br>samples = 1<br>value = [0, 0, 1, 0]<br>class = 2</div></div>
<div class="b" style="left:3923px;top:1192px;width:83px;background:#a5f19f"><div>mobile_wt &lt;= 180.0<br>gini = 0.44<br>samples = 3<br>value = [0, 2, 1, 0]<br>class = 1</div></div>
<div class="b l u" style="left:4006px;top:1200px;width:144px"><div>gini = 0.0<br>samples = 1<br>value = [0, 0, 1, 0]<br>class = 2</div></div>
<div class="b l g" style="left:4150px;top:1200px;width:77px"><div>gini = 0.0<br>samples = 1<br>value = [0, 1, 0, 0]<br>class = 1</div></div>
<div class="b l u" style="left:4227px;top:1200px;width:73px"><div>gini = 0.0<br>samples = 3<br>value = [0, 0, 3, 0]<br>class = 2</div></div>
<div class="b l g" style="left:4300px;top:1200px;width:73px"><div>gini = 0.0<br>samples = 2<br>value = [0, 2, 0, 0]<br>class = 1</div></div>
<div class="b l u" style="left:4373px;top:1200px;width:67px"><div>gini = 0.0<br>samples = 4<br>value = [0, 0, 4, 0]<br>class = 2</div></div>
<div class="b l g" style="left:4440px;top:1200px;width:79px"><div>gini = 0.0<br>samples = 22<br>value = [0, 22, 0, 0]<br>class = 1</div></div>
<div class="b l u" style="left:4519px;top:1200px;width:74px"><div>gini = 0.0<br>samples = 1<br>value = [0, 0, 1, 0]<br>class = 2</div></div>
<div class="b l g" style="left:4593px;top:1200px;width:71px"><div>gini = 0.0<br>samples = 9<br>value = [0, 9, 0, 0]<br>class = 1</div></div>
<div class="b l u" style="left:4664px;top:1200px;width:73px"><div>gini = 0.0<br>samples = 3<br>value = [0, 0, 3, 0]<br>class = 2</div></div>
<div class="b l g" style="left:4737px;top:1200px;width:74px"><div>gini = 0.0<br>samples = 2<br>value = [0, 2, 0, 0]<br>class = 1</div></div>
<div class="b l u" style="left:4811px;top:1200px;width:72px"><div>gini = 0.0<br>samples = 8<br>value = [0, 0, 8, 0]<br>class = 2</div></div>
<div class="b" style="left:4883px;top:1192px;width:74px;background:#8bef82"><div>blue &lt;= 0.5<br>gini = 0.4<br>samples = 8<br>value = [0, 6, 2, 0]<br>class = 1</div></div>
<div class="b l u" style="left:4948px;top:1200px;width:111px"><div>gini = 0.0<br>samples = 3<br>value = [0, 0, 3, 0]<br>class = 2</div></div>
<div class="b" style="left:5059px;top:1192px;width:192px;background:#3da0e6"><div>fc &lt;= 12.5<br>gini = 0.051<br>samples = 77<br>value = [0, 1, 75, 1]<br>class = 2</div></div>
<div class="b w" style="left:5251px;top:1192px;width:72px"><div>wifi &lt;= 0.5<br>gini = 0.5<br>samples = 2<br>value = [0, 0, 1, 1]<br>class = 2</div></div>
<div class="b l u" style="left:5323px;top:1200px;width:72px"><div>gini = 0.0<br>samples = 3<br>value = [0, 0, 3, 0]<br>class = 2</div></div>
<div class="b l m" style="left:5395px;top:1200px;width:73px"><div>gini = 0.0<br>samples = 2<br>value = [0, 0, 0, 2]<br>class = 3</div></div>
<div class="b l u" style="left:5468px;top:1200px;width:74px"><div>gini = 0.0<br>samples = 2<br>value = [0, 0, 2, 0]<br>class = 2</div></div>
<div class="b" style="left:5542px;top:1192px;width:75px;background:#e378ed"><div>n_cores &lt;= 4.5<br>gini = 0.3<br>samples = 5<br>value = [0, 0, 1, 4]<br>class = 3</div></div>
<div class="b l m" style="left:5617px;top:1200px;width:74px"><div>gini = 0.0<br>samples = 3<br>value = [0, 0, 0, 3]<br>class = 3</div></div>
<div class="b l u" style="left:5691px;top:1200px;width:153px"><div>gini = 0.0<br>samples = 1<br>value = [0, 0, 1, 0]<br>class = 2</div></div>
<div class="b" style="left:5847px;top:1192px;width:146px;background:#a0d0f3"><div>clock_speed &lt;= 1.5<br>gini = 0.44<br>samples = 3<br>value = [0, 0, 2, 1]<br>class = 2</div></div>
<div class="b" style="left:5993px;top:1192px;width:81px;background:#3d9fe6"><div>n_cores &lt;= 7.5<br>gini = 0.05<br>samples = 37<br>value = [0, 0, 36, 1]<br>class = 2</div></div>
<div class="b l m" style="left:6074px;top:1200px;width:74px"><div>gini = 0.0<br>samples = 1<br>value = [0, 0, 0, 1]<br>class = 3</div></div>
<div class="b l u" style="left:6148px;top:1200px;width:72px"><div>gini = 0.0<br>samples = 1<br>value = [0, 0, 1, 0]<br>class = 2</div></div>
<div class="b l u" style="left:6220px;top:1200px;width:73px"><div>gini = 0.0<br>samples = 1<br>value = [0, 0, 1, 0]<br>class = 2</div></div>
<div class="b l m" style="left:6293px;top:1200px;width:206px"><div>gini = 0.0<br>samples = 1<br>value = [0, 0, 0, 1]<br>class = 3</div></div>
<div class="b l m" style="left:6804px;top:1200px;width:74px"><div>gini = 0.0<br>samples = 2<br>value = [0, 0, 0, 2]<br>class = 3</div></div>
<div class="b l u" style="left:6878px;top:1200px;width:73px"><div>gini = 0.0<br>samples = 3<br>value = [0, 0, 3, 0]<br>class = 2</div></div>
<div class="b l u" style="left:6951px;top:1200px;width:74px"><div>gini = 0.0<br>samples = 1<br>value = [0, 0, 1, 0]<br>class = 2</div></div>
<div class="b l m" style="left:7025px;top:1200px;width:206px"><div>gini = 0.0<br>samples = 8<br>value = [0, 0, 0, 8]<br>class = 3</div></div>
<div class="b l g" style="left:2470px;top:1318px;width:76px"><div>gini = 0.0<br>samples = 8<br>value = [0, 8, 0, 0]<br>class = 1</div></div>
<div class="b l o" style="left:2546px;top:1318px;width:145px"><div>gini = 0.0<br>samples = 1<br>value = [1, 0, 0, 0]<br>class = 0</div></div>
<div class="b l g" style="left:2691px;top:1318px;width:72px"><div>gini = 0.0<br>samples = 4<br>value = [0, 4, 0, 0]<br>class = 1</div></div>
<div class="b l u" style="left:2763px;top:1318px;width:108px"><div>gini = 0.0<br>samples = 2<br>value = [0, 0, 2, 0]<br>class = 2</div></div>
<div class="b l g" style="left:2871px;top:1318px;width:69px"><div>gini = 0.0<br>samples = 4<br>value = [0, 4, 0, 0]<br>class = 1</div></div>
<div class="b l o" style="left:2940px;top:1318px;width:70px"><div>gini = 0.0<br>samples = 2<br>value = [2, 0, 0, 0]<br>class = 0</div></div>
<div class="b l g" style="left:3010px;top:1318px;width:73px"><div>gini = 0.0<br>samples = 80<br>value = [0, 80, 0, 0]<br>class = 1</div></div>
<div class="b" style="left:3083px;top:1312px;width:87px;background:#5be850"><div>n_cores &lt;= 3.5<br>gini = 0.2<br>samples = 18<br>value = [1, 16, 1, 0]<br>class = 1</div></div>
<div class="b l u" style="left:3165px;top:1318px;width:75px"><div>gini = 0.0<br>samples = 1<br>value = [0, 0, 1, 0]<br>class = 2</div></div>
<div class="b l g" style="left:3240px;top:1318px;width:73px"><div>gini = 0.0<br>samples = 3<br>value = [0, 3, 0, 0]<br>class = 1</div></div>
<div class="b l u" style="left:3313px;top:1318px;width:70px"><div>gini = 0.0<br>samples = 1<br>value = [0, 0, 1, 0]<br>class = 2</div></div>
<div class="b l g" style="left:3383px;top:1318px;width:208px"><div>gini = 0.0<br>samples = 7<br>value = [0, 7, 0, 0]<br>class = 1</div></div>
<div class="b l g" style="left:3895px;top:1318px;width:75px"><div>gini = 0.0<br>samples = 2<br>value = [0, 2, 0, 0]<br>class = 1</div></div>
<div class="b l u" style="left:3970px;top:1318px;width:208px"><div>gini = 0.0<br>samples = 1<br>value = [0, 0, 1, 0]<br>class = 2</div></div>
<div class="b l u" style="left:4846px;top:1318px;width:73px"><div>gini = 0.0<br>samples = 4<br>value = [0, 0, 4, 0]<br>class = 2</div></div>
<div class="b l g" style="left:4919px;top:1318px;width:70px"><div>gini = 0.0<br>samples = 1<br>value = [0, 1, 0, 0]<br>class = 1</div></div>
<div class="b" style="left:4987px;top:1312px;width:155px;background:#3fa1e6"><div>talk_time &lt;= 19.5<br>gini = 0.026<br>samples = 75<br>value = [0, 1, 74, 0]<br>class = 2</div></div>
<div class="b" style="left:5142px;top:1312px;width:72px;background:#64b2ea"><div>sc_h &lt;= 8.5<br>gini = 0.3<br>samples = 3<br>value = [0, 0, 2, 1]<br>class = 2</div></div>
<div class="b l m" style="left:5214px;top:1318px;width:75px"><div>gini = 0.0<br>samples = 1<br>value = [0, 0, 0, 1]<br>class = 3</div></div>
<div class="b l u" style="left:5289px;top:1318px;width:204px"><div>gini = 0.0<br>samples = 1<br>value = [0, 0, 1, 0]<br>class = 2</div></div>
<div class="b l m" style="left:5506px;top:1318px;width:74px"><div>gini = 0.0<br>samples = 4<br>value = [0, 0, 0, 4]<br>class = 3</div></div>
<div class="b l u" style="left:5580px;top:1318px;width:207px"><div>gini = 0.0<br>samples = 1<br>value = [0, 0, 1, 0]<br>class = 2</div></div>
<div class="b l m" style="left:5818px;top:1318px;width:73px"><div>gini = 0.0<br>samples = 1<br>value = [0, 0, 0, 1]<br>class = 3</div></div>
<div class="b l u" style="left:5891px;top:1318px;width:61px"><div>gini = 0.0<br>samples = 2<br>value = [0, 0, 2, 0]<br>class = 2</div></div>
<div class="b" style="left:5952px;top:1312px;width:77px;background:#6fb7ec"><div>px_width &lt;= 1243.0<br>gini = 0.3<br>samples = 5<br>value = [0, 0, 4, 1]<br>class = 2</div></div>
<div class="b l u" style="left:6029px;top:1318px;width:221px"><div>gini = 0.0<br>samples = 32<br>value = [0, 0, 32, 0]<br>class = 2</div></div>
<div class="b w" style="left:3007px;top:1431px;width:144px"><div>touch_screen &lt;= 0.5<br>gini = 0.5<br>samples = 2<br>value = [1, 1, 0, 0]<br>class = 0</div></div>
<div class="b" style="left:3151px;top:1431px;width:232px;background:#4ae640"><div>int_memory &lt;= 49.5<br>gini = 0.105<br>samples = 18<br>value = [0, 17, 1, 0]<br>class = 1</div></div>
<div class="b" style="left:4957px;top:1431px;width:64px;background:#64b2ea"><div>sc_h &lt;= 4.5<br>gini = 0.3<br>samples = 3<br>value = [0, 1, 2, 0]<br>class = 2</div></div>
<div class="b l u" style="left:5021px;top:1440px;width:83px"><div>gini = 0.0<br>samples = 70<br>value = [0, 0, 70, 0]<br>class = 2</div></div>
<div class="b l g" style="left:5104px;top:1440px;width:73px"><div>gini = 0.0<br>samples = 1<br>value = [0, 1, 0, 0]<br>class = 1</div></div>
<div class="b l u" style="left:5177px;top:1440px;width:206px"><div>gini = 0.0<br>samples = 4<br>value = [0, 0, 4, 0]<br>class = 2</div></div>
<div class="b l u" style="left:5927px;top:1440px;width:73px"><div>gini = 0.0<br>samples = 4<br>value = [0, 0, 4, 0]<br>class = 2</div></div>
<div class="b l m" style="left:6000px;top:1440px;width:208px"><div>gini = 0.0<br>samples = 1<br>value = [0, 0, 0, 1]<br>class = 3</div></div>
<div class="b l o" style="left:2981px;top:1558px;width:74px"><div>gini = 0.0<br>samples = 1<br>value = [1, 0, 0, 0]<br>class = 0</div></div>
<div class="b l g" style="left:3055px;top:1558px;width:73px"><div>gini = 0.0<br>samples = 1<br>value = [0, 1, 0, 0]<br>class = 1</div></div>
<div class="b w" style="left:3128px;top:1550px;width:208px"><div>three_g &lt;= 0.5<br>gini = 0.5<br>samples = 2<br>value = [0, 1, 1, 0]<br>class = 1</div></div>
<div class="b l g" style="left:3196px;top:1558px;width:219px"><div>gini = 0.0<br>samples = 16<br>value = [0, 16, 0, 0]<br>class = 1</div></div>
<div class="b l u" style="left:4920px;top:1558px;width:74px"><div>gini = 0.0<br>samples = 2<br>value = [0, 0, 2, 0]<br>class = 2</div></div>
<div class="b l m" style="left:4994px;top:1558px;width:207px"><div>gini = 0.0<br>samples = 1<br>value = [0, 0, 0, 1]<br>class = 3</div></div>
<div class="b l g" style="left:3091px;top:1670px;width:75px"><div>gini = 0.0<br>samples = 1<br>value = [0, 1, 0, 0]<br>class = 1</div></div>
<div class="b l u" style="left:3166px;top:1670px;width:206px"><div>gini = 0.0<br>samples = 1<br>value = [0, 0, 1, 0]<br>class = 2</div></div>
</div>
<script>
(function(){function f(){var c=document.getElementById('c');var w=window.innerWidth||8000,h=window.innerHeight||2000;c.style.transform='scale('+(w/8000)+','+(h/2000)+')';}f();window.addEventListener('resize',f);})();
</script>
</body></html>
